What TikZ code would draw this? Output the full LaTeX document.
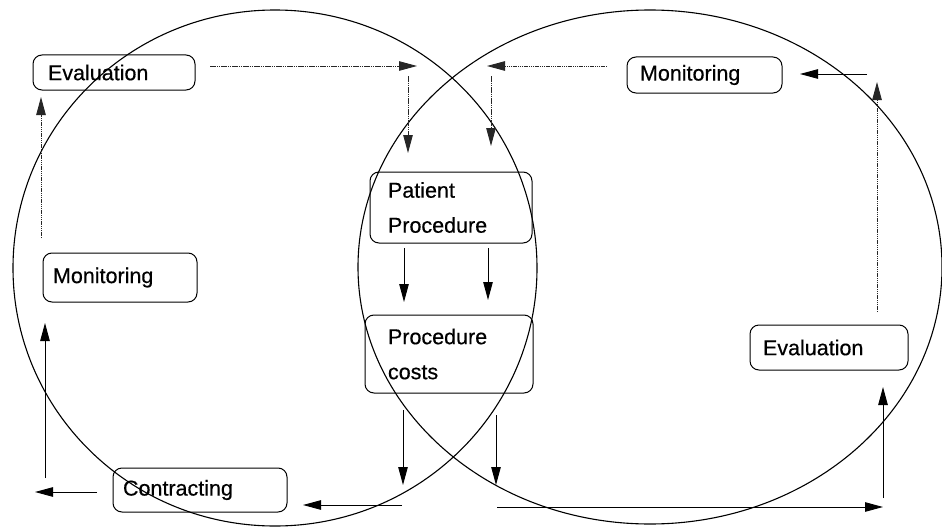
\documentclass[tikz,border=0pt]{standalone}
\usepackage{fontspec}
\setmainfont{Liberation Sans}[BoldFont=Liberation Sans, BoldFeatures={FakeBold=0.5}]
\usetikzlibrary{arrows.meta}
\begin{document}
\begin{tikzpicture}[x=1pt,y=-1pt,
  box/.style={draw, rounded corners=9pt, line width=1pt, align=left,
    font=\fontsize{21.5}{35}\selectfont\bfseries, inner ysep=0pt},
  flow/.style={line width=0.9pt, -{Triangle[length=18pt,width=9.5pt]}},
  faint/.style={flow, draw=black!85, dash pattern=on 1.5pt off 0.7pt},
  ring/.style={line width=1.1pt}]
\useasboundingbox (0,0) rectangle (942,527);

% the two overlapping cycles
\draw[ring] (275,268) ellipse [x radius=262, y radius=258];
\draw[ring] (650,267) ellipse [x radius=292, y radius=257];

% stages
\node[box, minimum height=35, text width=132, inner xsep=15] (evalL) at (114,72.5) {Evaluation};
\node[box, minimum height=36, text width=129, inner xsep=13] (monR) at (704.5,75) {Monitoring};
\node[box, minimum height=49, text width=134, inner xsep=10] (monL) at (120,277.5) {Monitoring};
\node[box, minimum height=71, text width=126, inner xsep=18] (pp) at (451,207.5) {Patient\\Procedure};
\node[box, minimum height=78, text width=122, inner xsep=23] (pc) at (449,354) {Procedure\\costs};
\node[box, minimum height=44, text width=154, inner xsep=10] (con) at (200,490) {Contracting};
\node[box, minimum height=45, text width=132, inner xsep=13] (evalR) at (829,347.5) {Evaluation};

% connector end points
\coordinate (t1s) at (210,66);  \coordinate (t1e) at (417,66);
\coordinate (d1s) at (408,76);  \coordinate (d1e) at (408,153);
\coordinate (t2s) at (607,66);  \coordinate (t2e) at (487,66);
\coordinate (d2s) at (491,76);  \coordinate (d2e) at (491,146);
\coordinate (t3s) at (867,74);  \coordinate (t3e) at (800,74);
\coordinate (r1s) at (877,312); \coordinate (r1e) at (877,82);
\coordinate (b1s) at (497,507); \coordinate (b1e) at (883,507);
\coordinate (r2s) at (883,498); \coordinate (r2e) at (883,387);
\coordinate (m1s) at (404,248); \coordinate (m1e) at (404,302);
\coordinate (m2s) at (488,248); \coordinate (m2e) at (488,300);
\coordinate (c1s) at (403,410); \coordinate (c1e) at (403,485);
\coordinate (c2s) at (496,415); \coordinate (c2e) at (496,485);
\coordinate (b2s) at (402,505); \coordinate (b2e) at (303,505);
\coordinate (b3s) at (97,492);  \coordinate (b3e) at (35,492);
\coordinate (l1s) at (45,478);  \coordinate (l1e) at (45,323);
\coordinate (l2s) at (41,238);  \coordinate (l2e) at (41,97);

% flows
\draw[faint] (t1s) -- (t1e);
\draw[faint] (d1s) -- (d1e);
\draw[faint] (t2s) -- (t2e);
\draw[faint] (d2s) -- (d2e);
\draw[flow]  (t3s) -- (t3e);
\draw[faint] (r1s) -- (r1e);
\draw[flow]  (b1s) -- (b1e);
\draw[flow]  (r2s) -- (r2e);
\draw[flow]  (m1s) -- (m1e);
\draw[flow]  (m2s) -- (m2e);
\draw[flow]  (c1s) -- (c1e);
\draw[flow]  (c2s) -- (c2e);
\draw[flow]  (b2s) -- (b2e);
\draw[flow]  (b3s) -- (b3e);
\draw[flow]  (l1s) -- (l1e);
\draw[faint] (l2s) -- (l2e);
\end{tikzpicture}
\end{document}
